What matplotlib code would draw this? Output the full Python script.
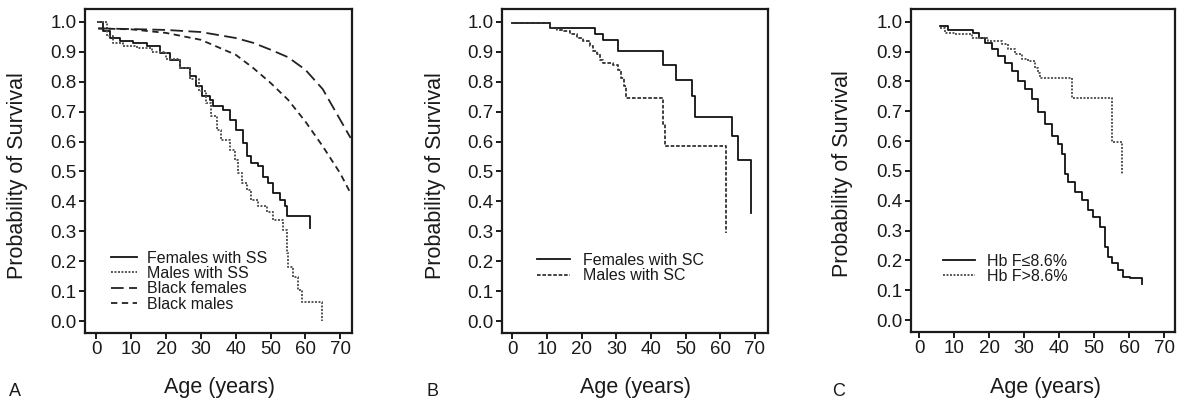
import matplotlib
matplotlib.use("Agg")
import matplotlib.pyplot as plt

plt.rcParams['font.family'] = ['Liberation Sans', 'DejaVu Sans']
plt.rcParams['text.color'] = '#1a1a1a'

W, H = 1179, 405

# ---- Panel A: SS disease vs black population ----
fem_ss_t = [0.5, 1.9, 3.8, 6.7, 10.5, 14.4, 18.2, 21.0, 24.0, 26.8, 28.7, 30.2, 32.6, 33.5,
            36.4, 38.3, 40.2, 42.1, 43.1, 44.5, 46.5, 47.9, 49.3, 50.8, 52.7, 54.1, 54.8, 61.3]
fem_ss_s = [1.0, 0.969, 0.946, 0.935, 0.93, 0.918, 0.896, 0.874, 0.846, 0.818, 0.785, 0.751,
            0.74, 0.718, 0.706, 0.673, 0.64, 0.595, 0.55, 0.528, 0.517, 0.483, 0.461, 0.427,
            0.405, 0.383, 0.35, 0.31]

male_ss_t = [0.5, 2.9, 4.8, 7.7, 11.5, 16.0, 20.0, 24.0, 27.0, 29.5, 31.6, 33.0, 34.5, 35.9,
             38.3, 39.8, 40.7, 41.7, 43.1, 44.5, 46.5, 48.9, 50.8, 53.6, 54.8, 55.1, 56.5,
             57.9, 58.9, 64.7]
male_ss_s = [1.0, 0.952, 0.93, 0.918, 0.913, 0.9, 0.875, 0.845, 0.81, 0.77, 0.729, 0.684,
             0.64, 0.606, 0.573, 0.539, 0.494, 0.461, 0.439, 0.405, 0.383, 0.366, 0.338,
             0.305, 0.227, 0.182, 0.148, 0.104, 0.065, 0.0]

pop_age = [0.5, 10, 20, 30, 40, 45, 50, 55, 60, 65, 70, 73]
black_fem = [0.978, 0.976, 0.973, 0.966, 0.946, 0.93, 0.907, 0.882, 0.84, 0.775, 0.673, 0.612]
black_male = [0.978, 0.975, 0.963, 0.94, 0.89, 0.846, 0.796, 0.74, 0.667, 0.584, 0.494, 0.427]

# ---- Panel B: SC disease ----
fem_sc_t = [0, 11.0, 23.9, 26.3, 30.6, 43.5, 47.3, 51.9, 52.8, 63.5, 65.2, 68.8]
fem_sc_s = [0.995, 0.98, 0.958, 0.939, 0.902, 0.857, 0.807, 0.751, 0.682, 0.617, 0.537, 0.36]

male_sc_t = [0, 11.0, 12.9, 14.8, 16.7, 18.6, 20.5, 22.4, 23.4, 24.4, 25.3, 26.3, 29.1,
             30.6, 31.5, 32.2, 32.7, 43.5, 44.2, 61.6]
male_sc_s = [0.995, 0.98, 0.974, 0.969, 0.958, 0.946, 0.935, 0.918, 0.902, 0.891, 0.874,
             0.862, 0.857, 0.84, 0.812, 0.785, 0.745, 0.66, 0.585, 0.294]

# ---- Panel C: by fetal hemoglobin level ----
hbf_lo_t = [6.0, 8.4, 15.5, 17.0, 18.8, 20.7, 22.6, 24.5, 26.5, 28.4, 30.3, 32.2, 34.1, 36.0,
            37.9, 39.8, 40.7, 41.7, 42.6, 44.5, 46.4, 48.3, 49.8, 51.7, 53.1, 54.0, 55.0,
            56.9, 58.3, 60.2, 63.6]
hbf_lo_s = [0.985, 0.974, 0.963, 0.947, 0.93, 0.908, 0.885, 0.863, 0.835, 0.802, 0.774,
            0.741, 0.696, 0.657, 0.618, 0.59, 0.557, 0.49, 0.462, 0.429, 0.401, 0.368, 0.345,
            0.312, 0.245, 0.212, 0.19, 0.167, 0.145, 0.14, 0.12]

hbf_hi_t = [6.0, 7.4, 10.3, 15.0, 19.8, 23.6, 25.5, 27.4, 29.3, 31.2, 33.1, 34.1, 34.5,
            43.8, 55.0, 58.0]
hbf_hi_s = [0.98, 0.963, 0.958, 0.947, 0.935, 0.924, 0.908, 0.891, 0.874, 0.869, 0.846,
            0.83, 0.813, 0.746, 0.596, 0.49]

x_ticks = [0, 10, 20, 30, 40, 50, 60, 70]
y_ticks = [0.0, 0.1, 0.2, 0.3, 0.4, 0.5, 0.6, 0.7, 0.8, 0.9, 1.0]

SOLID = dict(color='#111111', lw=1.3, linestyle='-')
DOTTED = dict(color='#555555', lw=1.4, linestyle=(0, (1, 0.8)))
LONGDASH = dict(color='#222222', lw=1.3, linestyle=(0, (7, 3)))
SHORTDASH = dict(color='#222222', lw=1.3, linestyle=(0, (3.5, 2.5)))


def px_axes(left, right, top, bottom):
    return fig.add_axes([left / W, 1 - bottom / H, (right - left) / W, (bottom - top) / H])


def style(ax, xlim):
    ax.set_xlim(*xlim)
    ax.set_ylim(-0.04, 1.043)
    ax.set_xticks(x_ticks)
    ax.set_yticks(y_ticks)
    ax.set_yticklabels([f"{v:.1f}" for v in y_ticks])
    ax.tick_params(direction='out', length=4, width=1.4, labelsize=13.5, pad=2,
                   colors='#1a1a1a')
    for sp in ax.spines.values():
        sp.set_linewidth(1.6)
        sp.set_color('#1a1a1a')


def step(ax, t, s, **kw):
    ax.step(t, s, where='post', **kw)


LEG = dict(loc='center left', frameon=False, fontsize=11.5, labelspacing=0.02,
           borderpad=0, borderaxespad=0)

fig = plt.figure(figsize=(W / 100, H / 100), dpi=100)

# A
axA = px_axes(85, 352, 9, 333)
step(axA, fem_ss_t, fem_ss_s, label='Females with SS', **SOLID)
step(axA, male_ss_t, male_ss_s, label='Males with SS', **DOTTED)
axA.plot(pop_age, black_fem, label='Black females', **LONGDASH)
axA.plot(pop_age, black_male, label='Black males', **SHORTDASH)
style(axA, (-3.3, 73.4))
axA.legend(bbox_to_anchor=(0.098, 0.16), handlelength=1.6, handletextpad=0.65, **LEG)

# B
axB = px_axes(502, 768, 9, 333)
step(axB, fem_sc_t, fem_sc_s, label='Females with SC', **SOLID)
step(axB, male_sc_t, male_sc_s, label='Males with SC',
     color='#333333', lw=1.3, linestyle=(0, (2, 1)))
style(axB, (-3.0, 73.8))
axB.legend(bbox_to_anchor=(0.13, 0.20), handlelength=2.1, handletextpad=0.8, **LEG)

# C
axC = px_axes(911, 1175, 9, 332)
step(axC, hbf_lo_t, hbf_lo_s, label='Hb F\u22648.6%', **SOLID)
step(axC, hbf_hi_t, hbf_hi_s, label='Hb F>8.6%', **DOTTED)
style(axC, (-2.3, 73.1))
axC.legend(bbox_to_anchor=(0.12, 0.196), handlelength=2.05, handletextpad=0.75, **LEG)

# labels placed in pixel positions
for x, y in [(18, 176), (435, 176), (842, 174)]:
    fig.text(x / W, 1 - y / H, 'Probability of Survival', rotation=90,
             ha='center', va='center', fontsize=15.5)
for x in [220, 636, 1045]:
    fig.text(x / W, 1 - 388 / H, 'Age (years)', ha='center', va='center', fontsize=15.5)
for x, letter in [(15, 'A'), (432, 'B'), (839, 'C')]:
    fig.text(x / W, 1 - 391 / H, letter, ha='center', va='center', fontsize=13)

fig.savefig('out.png', dpi=100)
